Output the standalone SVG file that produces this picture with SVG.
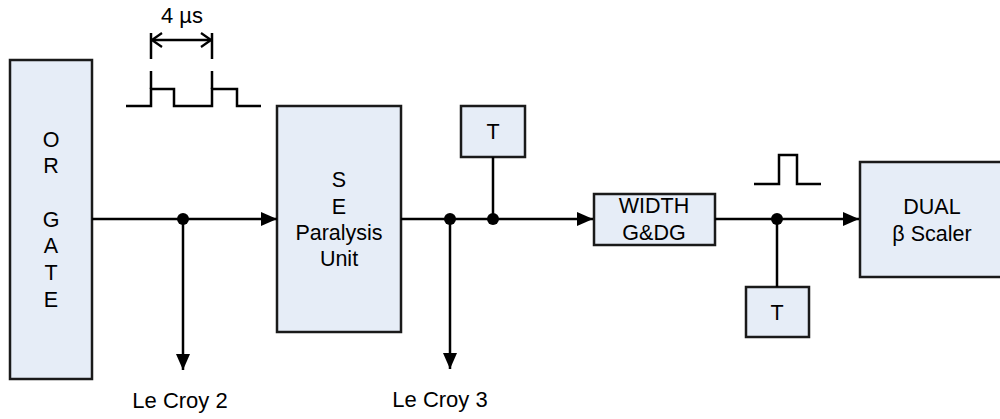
<svg xmlns="http://www.w3.org/2000/svg" width="1000" height="419" viewBox="0 0 1000 419">
<style>
.box{fill:#e6edf7;stroke:#1a1a1a;stroke-width:2.5}
.ln{fill:none;stroke:#000;stroke-width:2.5}
.t{font-family:"Liberation Sans",Arial,sans-serif;font-size:21.5px;fill:#000;text-anchor:middle}
.lbl{font-family:"Liberation Sans",Arial,sans-serif;font-size:22px;fill:#000;text-anchor:middle}
</style>
<defs>
<marker id="ah" markerWidth="16" markerHeight="14" refX="16" refY="7" orient="auto" markerUnits="userSpaceOnUse">
<path d="M0,0 L16,7 L0,14 Z" fill="#000"/>
</marker>
<marker id="open" markerWidth="12" markerHeight="16" refX="11" refY="8" orient="auto-start-reverse" markerUnits="userSpaceOnUse">
<path d="M1,1 L11,8 L1,15" fill="none" stroke="#000" stroke-width="2.2"/>
</marker>
</defs>
<rect width="1000" height="419" fill="#fff"/>

<g id="or-gate">
<rect class="box" x="10" y="60" width="82" height="319"/>
<text class="t" x="51" y="146.5">O</text>
<text class="t" x="51" y="173">R</text>
<text class="t" x="51" y="226.5">G</text>
<text class="t" x="51" y="253">A</text>
<text class="t" x="51" y="280">T</text>
<text class="t" x="51" y="306.5">E</text>
</g>

<g id="se-paralysis">
<rect class="box" x="277" y="106" width="124" height="226"/>
<text class="t" x="339" y="187">S</text>
<text class="t" x="339" y="214">E</text>
<text class="t" x="339" y="240">Paralysis</text>
<text class="t" x="339" y="266">Unit</text>
</g>

<g id="t-top">
<rect class="box" x="461" y="106" width="64" height="51"/>
<text class="t" x="493" y="139">T</text>
</g>

<g id="width-gdg">
<rect class="box" x="594" y="194" width="121" height="51"/>
<text class="t" x="654" y="213">WIDTH</text>
<text class="t" x="654" y="240">G&amp;DG</text>
</g>

<g id="t-bottom">
<rect class="box" x="746" y="287" width="63" height="50"/>
<text class="t" x="777" y="320">T</text>
</g>

<g id="dual-scaler">
<rect class="box" x="860" y="162" width="146" height="115"/>
<text class="t" x="932" y="214">DUAL</text>
<text class="t" x="932" y="241">β Scaler</text>
</g>

<g id="le-croy-2">
<text class="lbl" x="180" y="408">Le Croy 2</text>
</g>
<g id="le-croy-3">
<text class="lbl" x="440" y="407">Le Croy 3</text>
</g>

<g id="connectors">
<line class="ln" x1="92" y1="219" x2="277" y2="219" marker-end="url(#ah)"/>
<line class="ln" x1="183" y1="219" x2="183" y2="370" marker-end="url(#ah)"/>
<circle cx="183" cy="219" r="6" fill="#000"/>
<line class="ln" x1="401" y1="219" x2="593" y2="219" marker-end="url(#ah)"/>
<line class="ln" x1="450" y1="219" x2="450" y2="369" marker-end="url(#ah)"/>
<circle cx="450" cy="219" r="6" fill="#000"/>
<line class="ln" x1="493" y1="157" x2="493" y2="219"/>
<circle cx="493" cy="219" r="6" fill="#000"/>
<line class="ln" x1="715" y1="219" x2="859" y2="219" marker-end="url(#ah)"/>
<line class="ln" x1="777" y1="219" x2="777" y2="287"/>
<circle cx="777" cy="219" r="6" fill="#000"/>
</g>

<g id="pulse-train">
<polyline class="ln" points="126,106 151,106 151,89 174,89 174,106 212,106 212,89 237,89 237,106 261,106"/>
<line class="ln" x1="151" y1="89" x2="151" y2="71"/>
<line class="ln" x1="212" y1="89" x2="212" y2="71"/>
<line class="ln" x1="151" y1="33" x2="151" y2="59"/>
<line class="ln" x1="212" y1="33" x2="212" y2="59"/>
<line class="ln" x1="152" y1="40" x2="211" y2="40" marker-start="url(#open)" marker-end="url(#open)"/>
<text class="lbl" x="182" y="23">4 µs</text>
</g>

<g id="pulse-single">
<polyline class="ln" points="754,184 779,184 779,155 797,155 797,184 821,184"/>
</g>
</svg>
